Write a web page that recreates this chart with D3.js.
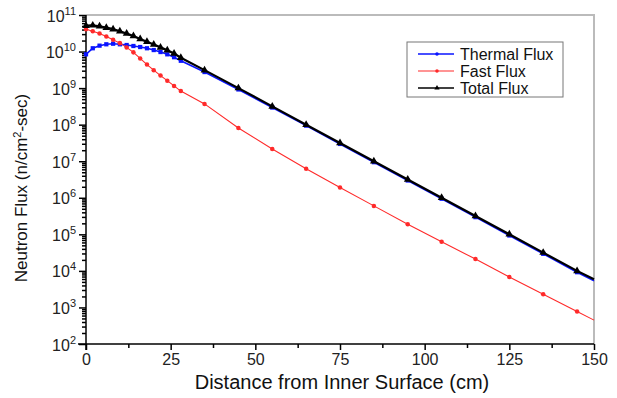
<!DOCTYPE html>
<meta charset="utf-8">
<style>
	body { margin: 0; background: #fff; }
	svg { font-family: "Liberation Sans", Arial, sans-serif; }
	.axis path, .axis line { stroke: #000; stroke-width: 1.5px; }
	.axis text { font-size: 16px; fill: #222; font-family: "Liberation Sans", Arial, sans-serif; }
</style>
<svg id="fluxChart" width="617" height="398"></svg>
<script src="https://d3js.org/d3.v7.min.js"></script>
<script>
	// distance from inner surface (cm)
	var distance = [0, 2, 4, 6, 8, 10, 12, 14, 16, 18, 20, 22, 24, 26, 28,
		35, 45, 55, 65, 75, 85, 95, 105, 115, 125, 135, 145, 150];

	// flux values (n/cm2-sec)
	var thermalFlux = [8.4e9, 1.23e10, 1.45e10, 1.58e10, 1.64e10, 1.58e10, 1.51e10, 1.42e10, 1.33e10, 1.23e10,
		1.1e10, 9.7e9, 8.4e9, 7.0e9, 5.6e9, 2.75e9, 9.2e8, 2.94e8, 9.4e7, 2.97e7,
		9.4e6, 2.97e6, 9.4e5, 2.95e5, 9.3e4, 2.93e4, 9.2e3, 5.4e3];
	var fastFlux = [4.1e10, 3.6e10, 3.1e10, 2.6e10, 2.1e10, 1.7e10, 1.3e10, 9.5e9, 6.5e9, 4.4e9,
		3.1e9, 2.2e9, 1.6e9, 1.15e9, 8.3e8, 3.7e8, 8.1e7, 2.16e7, 6.2e6, 1.9e6,
		6.0e5, 1.9e5, 6.3e4, 2.1e4, 6.8e3, 2.3e3, 7.7e2, 4.5e2];
	var totalFlux = [5.1e10, 5.2e10, 4.9e10, 4.5e10, 4.1e10, 3.6e10, 3.1e10, 2.65e10, 2.2e10, 1.85e10,
		1.55e10, 1.3e10, 1.08e10, 8.8e9, 6.8e9, 3.1e9, 1.0e9, 3.16e8, 1.0e8, 3.16e7,
		1.0e7, 3.16e6, 1.0e6, 3.16e5, 1.0e5, 3.16e4, 1.0e4, 5.9e3];

	var seriesNames = ["Thermal Flux", "Fast Flux", "Total Flux"];
	var xTicks = [0, 25, 50, 75, 100, 125, 150];
	var yExponents = [2, 3, 4, 5, 6, 7, 8, 9, 10, 11];

	var svg = d3.select("#fluxChart"),
		margin = {top: 15, right: 23, bottom: 54, left: 86},
		width = +svg.attr("width") - margin.left - margin.right,
		height = +svg.attr("height") - margin.top - margin.bottom;

	var x = d3.scaleLinear().domain([0, 150]).range([margin.left, margin.left + width]);
	var y = d3.scaleLog().domain([1e2, 1e11]).range([margin.top + height, margin.top]);

	// gray frame at top and right
	svg.append("path")
		.attr("d", "M" + x(0) + "," + y(1e11) + "H" + x(150) + "V" + y(1e2))
		.attr("fill", "none")
		.attr("stroke", "#bbb")
		.attr("stroke-width", 2);

	// minor ticks
	var yMinor = [];
	yExponents.slice(0, -1).forEach(function(e) {
		for (var k = 2; k < 10; k++) yMinor.push(k * Math.pow(10, e));
	});
	svg.append("g")
		.attr("class", "axis")
		.attr("transform", "translate(" + x(0) + ",0)")
		.call(d3.axisLeft(y).tickValues(yMinor).tickSize(4).tickFormat(""))
		.select(".domain").remove();
	svg.append("g")
		.attr("class", "axis")
		.attr("transform", "translate(0," + y(1e2) + ")")
		.call(d3.axisBottom(x).tickValues([12.5, 37.5, 62.5, 87.5, 112.5, 137.5]).tickSize(4).tickFormat(""))
		.select(".domain").remove();

	// major axes
	var xAxis = svg.append("g")
		.attr("class", "axis")
		.attr("transform", "translate(0," + y(1e2) + ")")
		.call(d3.axisBottom(x).tickValues(xTicks).tickSize(6).tickSizeOuter(0).tickPadding(4));
	xAxis.select(".domain").attr("d", "M" + (x(0) - 8) + ",0H" + x(150));

	var yAxis = svg.append("g")
		.attr("class", "axis")
		.attr("transform", "translate(" + x(0) + ",0)")
		.call(d3.axisLeft(y).tickValues(yExponents.map(function(e) { return Math.pow(10, e); }))
			.tickSize(7).tickSizeOuter(0).tickPadding(3));
	yAxis.select(".domain").attr("d", "M0," + (y(1e2) + 6) + "V" + y(1e11));

	yAxis.selectAll(".tick text").each(function(d) {
		var t = d3.select(this).text("");
		t.attr("dy", "0.38em");
		t.append("tspan").text("10");
		t.append("tspan").attr("dy", "-7").attr("font-size", "11px").text(Math.round(Math.log10(d)));
	});

	// lines
	var line = d3.line()
		.x(function(d) { return x(d.x); })
		.y(function(d) { return y(d.v); });

	var series = [
		{name: seriesNames[0], values: thermalFlux, color: "#0a14ff", width: 1.6, marker: "square"},
		{name: seriesNames[1], values: fastFlux, color: "#ff2a2a", width: 1.1, marker: "circle"},
		{name: seriesNames[2], values: totalFlux, color: "#000", width: 2.2, marker: "triangle"}
	];
	series.forEach(function(s) {
		s.points = distance.map(function(d, i) { return {x: d, v: s.values[i]}; });
	});

	var symbols = {
		square: d3.symbol().type(d3.symbolSquare).size(18),
		circle: d3.symbol().type(d3.symbolCircle).size(16),
		triangle: d3.symbol().type(d3.symbolTriangle).size(26)
	};

	var sg = svg.selectAll(".series")
		.data(series)
		.enter().append("g")
		.attr("class", "series");

	sg.append("path")
		.attr("fill", "none")
		.attr("stroke", function(d) { return d.color; })
		.attr("stroke-width", function(d) { return d.width; })
		.attr("d", function(d) { return line(d.points); });

	sg.selectAll(".mark")
		.data(function(d) { return d.points.filter(function(p) { return p.x < 150; }).map(function(p) { return {p: p, s: d}; }); })
		.enter().append("path")
		.attr("class", "mark")
		.attr("transform", function(d) { return "translate(" + x(d.p.x) + "," + y(d.p.v) + ")"; })
		.attr("d", function(d) { return symbols[d.s.marker](); })
		.attr("fill", function(d) { return d.s.color; });

	// legend
	var legend = svg.append("g").attr("transform", "translate(407,42)");
	legend.append("rect")
		.attr("width", 156).attr("height", 55)
		.attr("fill", "#fff").attr("stroke", "#777").attr("stroke-width", 1);
	var li = legend.selectAll(".li")
		.data(series)
		.enter().append("g")
		.attr("transform", function(d, i) { return "translate(0," + (12 + i * 17) + ")"; });
	li.append("line")
		.attr("x1", 11).attr("x2", 47)
		.attr("stroke", function(d) { return d.color; })
		.attr("stroke-width", function(d) { return Math.min(d.width, 1.6); });
	li.append("path")
		.attr("transform", "translate(30,0)")
		.attr("d", function(d) { return d.marker === "triangle" ? d3.symbol().type(d3.symbolTriangle).size(12)() : d3.symbol().type(d3.symbolCircle).size(10)(); })
		.attr("fill", function(d) { return d.color; });
	li.append("text")
		.attr("x", 53).attr("dy", "0.36em")
		.style("font-size", "16px")
		.attr("fill", "#111")
		.text(function(d) { return d.name; });

	// axis titles
	svg.append("text")
		.attr("x", 342).attr("y", 389)
		.attr("text-anchor", "middle")
		.style("font-size", "20px")
		.attr("fill", "#111")
		.text("Distance from Inner Surface (cm)");

	var yTitle = svg.append("text")
		.attr("transform", "translate(27,188) rotate(-90)")
		.attr("text-anchor", "middle")
		.style("font-size", "17px")
		.attr("fill", "#111");
	yTitle.append("tspan").text("Neutron Flux (n/cm");
	yTitle.append("tspan").attr("dy", "-6").style("font-size", "11px").text("2");
	yTitle.append("tspan").attr("dy", "6").text("-sec)");
</script>
